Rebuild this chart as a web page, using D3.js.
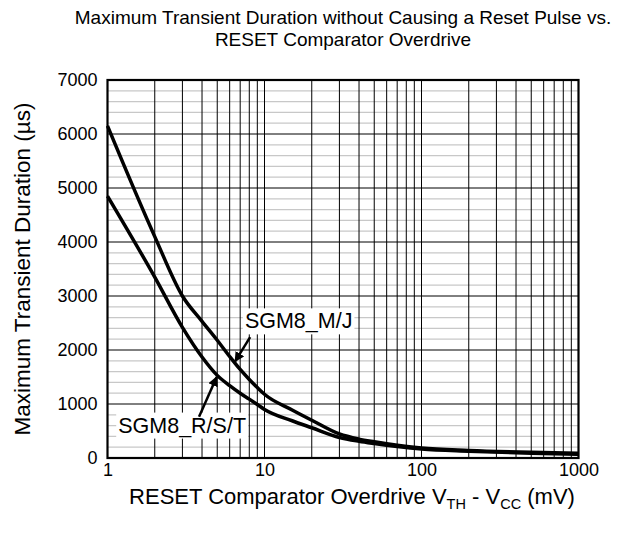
<!DOCTYPE html>
<html>
<head>
<meta charset="utf-8">
<script src="https://cdn.jsdelivr.net/npm/d3@7/dist/d3.min.js"></script>
<style>
body{margin:0;background:#fff;}
svg text{font-family:"Liberation Sans",Arial,sans-serif;fill:#000;}
</style>
</head>
<body>
<svg id="chart" width="630" height="536"></svg>
<script>
const xValues = [1, 2, 3, 4, 5, 6, 7, 8, 9, 10, 15, 20, 30, 40, 50, 70, 100, 200, 500, 1000];
const mjValues = [6150, 4100, 3000, 2530, 2180, 1880, 1640, 1455, 1305, 1180, 890, 700, 445, 350, 300, 235, 185, 140, 105, 88];
const rstValues = [4850, 3350, 2420, 1870, 1530, 1340, 1200, 1090, 990, 900, 690, 560, 380, 310, 268, 212, 165, 125, 90, 70];
const xTickLabels = ["1", "10", "100", "1000"];
const yTickLabels = ["0", "1000", "2000", "3000", "4000", "5000", "6000", "7000"];
const seriesNames = ["SGM8_M/J", "SGM8_R/S/T"];

const svg = d3.select("#chart");
const m = {l: 107.5, r: 578.5, t: 80, b: 458};
const x = d3.scaleLog().domain([1, 1000]).range([m.l, m.r]);
const y = d3.scaleLinear().domain([0, 7000]).range([m.b, m.t]);

// minor horizontal grid
const g = svg.append("g");
d3.range(0, 7001, 200).filter(v => v % 1000 !== 0).forEach(v => {
  g.append("line").attr("x1", m.l).attr("x2", m.r).attr("y1", y(v)).attr("y2", y(v))
    .attr("stroke", "#c8c8c8").attr("stroke-width", 1.2);
});
// vertical grid
[1, 10, 100].forEach(d => {
  for (let k = 1; k <= 9; k++) {
    const v = d * k;
    if (v === 1) continue;
    g.append("line").attr("x1", x(v)).attr("x2", x(v)).attr("y1", m.t).attr("y2", m.b)
      .attr("stroke", "#000").attr("stroke-width", 1);
  }
});
// major horizontal grid
d3.range(1000, 7000, 1000).forEach(v => {
  g.append("line").attr("x1", m.l).attr("x2", m.r).attr("y1", y(v)).attr("y2", y(v))
    .attr("stroke", "#000").attr("stroke-width", 1);
});

// axes labels
const yAxis = d3.axisLeft(y).tickValues(yTickLabels.map(Number)).tickFormat((d, i) => yTickLabels[i]).tickSize(0).tickPadding(10);
svg.append("g").attr("transform", `translate(${m.l},0)`).call(yAxis)
  .call(s => s.select(".domain").remove())
  .selectAll("text").attr("font-size", 18).attr("font-family", "Liberation Sans, Arial, sans-serif");
const xAxis = d3.axisBottom(x).tickValues(xTickLabels.map(Number)).tickFormat((d, i) => xTickLabels[i]).tickSize(0).tickPadding(5);
svg.append("g").attr("transform", `translate(0,${m.b})`).call(xAxis)
  .call(s => s.select(".domain").remove())
  .selectAll("text").attr("font-size", 18).attr("font-family", "Liberation Sans, Arial, sans-serif");

// curves
const line = d3.line().x(d => x(d[0])).y(d => y(d[1])).curve(d3.curveMonotoneX);
[mjValues, rstValues].forEach(vals => {
  svg.append("path").datum(xValues.map((v, i) => [v, vals[i]]))
    .attr("d", line).attr("fill", "none").attr("stroke", "#000").attr("stroke-width", 3.5)
    .attr("stroke-linejoin", "round");
});

// frame
svg.append("rect").attr("x", m.l).attr("y", m.t).attr("width", m.r - m.l).attr("height", m.b - m.t)
  .attr("fill", "none").attr("stroke", "#000").attr("stroke-width", 2.2);

// annotations
const defs = svg.append("defs");
defs.append("marker").attr("id", "ah").attr("viewBox", "0 0 10 10").attr("refX", 9).attr("refY", 5)
  .attr("markerWidth", 4).attr("markerHeight", 4).attr("orient", "auto").attr("markerUnits", "strokeWidth")
  .append("path").attr("d", "M0,0 L10,5 L0,10 Z").attr("fill", "#000");

function label(text, xv, yv) {
  const lg = svg.append("g");
  const r = lg.append("rect").attr("fill", "#fff");
  const t = lg.append("text").attr("x", x(xv)).attr("y", y(yv)).attr("dy", "0.35em")
    .attr("font-size", 21.5).text(text);
  const b = t.node().getBBox();
  r.attr("x", b.x - 2).attr("y", b.y - 1).attr("width", b.width + 4).attr("height", b.height + 2);
}
function arrow(x1, y1, x2, y2) {
  svg.append("line").attr("x1", x(x1)).attr("y1", y(y1)).attr("x2", x(x2)).attr("y2", y(y2))
    .attr("stroke", "#000").attr("stroke-width", 2.5).attr("marker-end", "url(#ah)");
}
label(seriesNames[0], 7.5, 2540);
label(seriesNames[1], 1.17, 610);
arrow(8.1, 2240, 6.5, 1790);
arrow(3.83, 765, 4.96, 1500);

// titles
const title = svg.append("text").attr("x", 343).attr("text-anchor", "middle").attr("font-size", 19);
title.append("tspan").attr("x", 343).attr("y", 24).text("Maximum Transient Duration without Causing a Reset Pulse vs.");
title.append("tspan").attr("x", 343).attr("y", 46).text("RESET Comparator Overdrive");

const xt = svg.append("text").attr("x", 352).attr("y", 504).attr("text-anchor", "middle").attr("font-size", 22);
xt.append("tspan").text("RESET Comparator Overdrive V");
xt.append("tspan").attr("font-size", 14.5).attr("dy", 5).text("TH");
xt.append("tspan").attr("dy", -5).text(" - V");
xt.append("tspan").attr("font-size", 14.5).attr("dy", 5).text("CC");
xt.append("tspan").attr("dy", -5).text(" (mV)");

svg.append("text").attr("transform", `translate(30,${(m.t + m.b) / 2}) rotate(-90)`)
  .attr("text-anchor", "middle").attr("font-size", 22.5).text("Maximum Transient Duration (µs)");
</script>
</body>
</html>
